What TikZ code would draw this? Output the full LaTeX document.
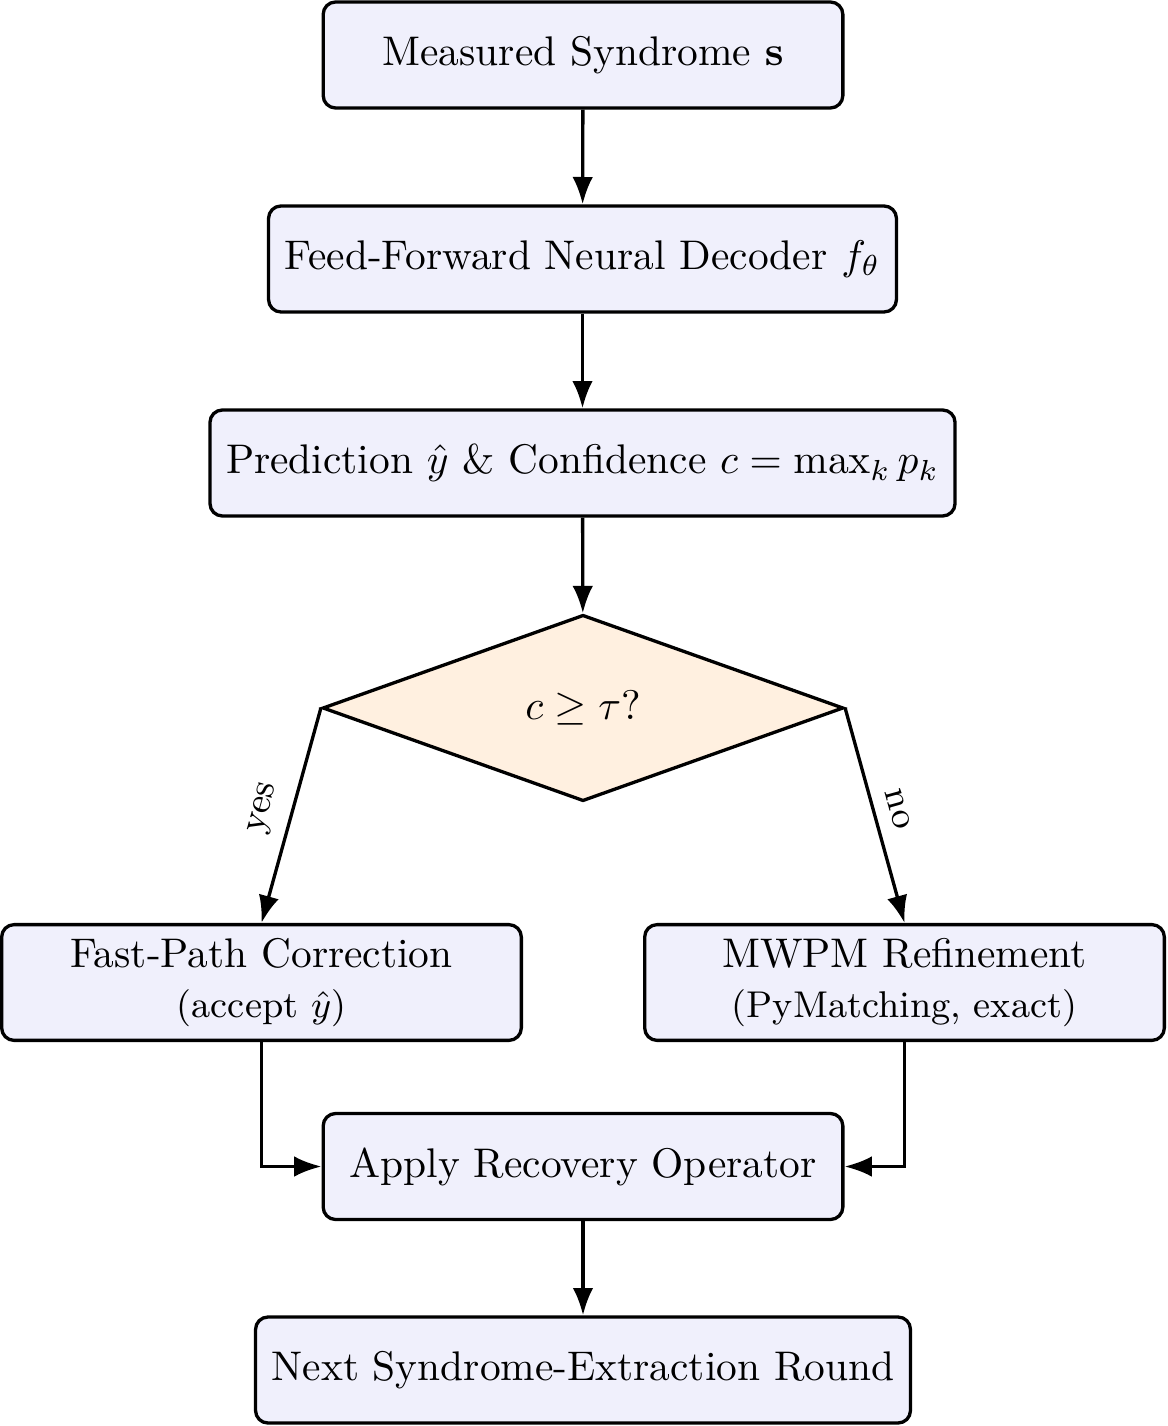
\documentclass[tikz,border=0pt]{standalone}
\usetikzlibrary{shapes.geometric,arrows.meta}
\definecolor{boxfill}{RGB}{240,240,252}
\definecolor{diafill}{RGB}{255,240,224}
\begin{document}
\begin{tikzpicture}[x=0.2415pt,y=-0.2415pt,
  procbox/.style={draw,thick,rounded corners=3pt,fill=boxfill,align=center,
    inner xsep=3.9pt,minimum width=125.5pt,minimum height=25.6pt},
  decbox/.style={draw,thick,diamond,fill=diafill,minimum width=125.8pt,minimum height=45pt,inner sep=0pt},
  flow/.style={thick,-{Latex}},
  lab/.style={font=\small,sloped,above,midway}]
\useasboundingbox (0,0) rectangle (1167,1426);
\node[procbox] (meas) at (583,55) {Measured Syndrome $\mathbf{s}$};
\node[procbox] (ff) at (582.5,259) {Feed-Forward Neural Decoder $f_\theta$};
\node[procbox] (pred) at (582.5,463) {Prediction $\hat{y}$ \& Confidence $c = \max_k p_k$};
\node[decbox] (dec) at (583,708) {$c \geq \tau$?};
\node[procbox] (fast) at (261.5,982.5) {Fast-Path Correction\\{\small (accept $\hat{y}$)}};
\node[procbox] (mwpm) at (904.5,982.5) {MWPM Refinement\\{\small (PyMatching, exact)}};
\node[procbox] (apply) at (583,1166.5) {Apply Recovery Operator};
\node[procbox] (next) at (583,1370) {Next Syndrome-Extraction Round};
\draw[flow] (meas) -- (ff);
\draw[flow] (ff) -- (pred);
\draw[flow] (pred) -- (dec);
\draw[flow] (dec.west) -- node[lab] {yes} (fast.north);
\draw[flow] (dec.east) -- node[lab] {no} (mwpm.north);
\draw[flow] (fast.south) |- (apply.west);
\draw[flow] (mwpm.south) |- (apply.east);
\draw[flow] (apply) -- (next);
\end{tikzpicture}
\end{document}
